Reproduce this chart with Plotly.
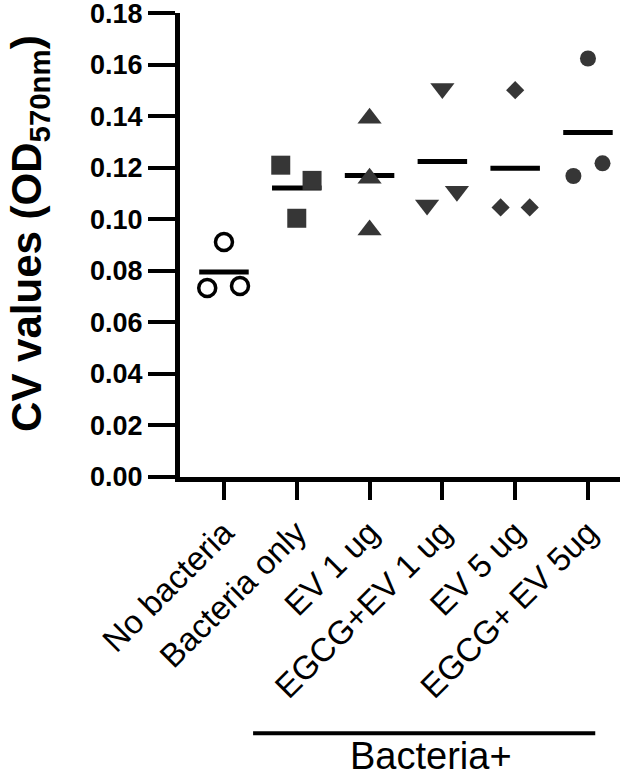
import numpy as np
import plotly.graph_objects as go

# ---- data ----
categories = ["No bacteria", "Bacteria only", "EV 1 ug", "EGCG+EV 1 ug", "EV 5 ug", "EGCG+ EV 5ug"]
no_bacteria = [0.0912, 0.0733, 0.0741]
bacteria_only = [0.1210, 0.1151, 0.1004]
ev_1ug = [0.1392, 0.1159, 0.0958]
egcg_ev_1ug = [0.1508, 0.1055, 0.1109]
ev_5ug = [0.1501, 0.1046, 0.1046]
egcg_ev_5ug = [0.1624, 0.1168, 0.1217]
y_ticks = [0.00, 0.02, 0.04, 0.06, 0.08, 0.10, 0.12, 0.14, 0.16, 0.18]
group_label = "Bacteria+"

series = [no_bacteria, bacteria_only, ev_1ug, egcg_ev_1ug, ev_5ug, egcg_ev_5ug]

# ---- styling (horizontal spread of replicate points, marker styles) ----
spread = [
    [0.0, -0.23, 0.22],
    [-0.22, 0.21, 0.0],
    [0.0, 0.0, 0.0],
    [0.0, -0.21, 0.2],
    [0.0, -0.2, 0.2],
    [0.0, -0.2, 0.2],
]
fill = "#363636"
styles = [
    dict(symbol="circle-open", size=17, color="black", line=dict(width=3.5, color="black")),
    dict(symbol="square", size=19, color=fill, line=dict(width=0)),
    dict(symbol="triangle-up", size=21, color=fill, line=dict(width=0)),
    dict(symbol="triangle-down", size=21, color=fill, line=dict(width=0)),
    dict(symbol="diamond", size=14, color=fill, line=dict(width=0)),
    dict(symbol="circle", size=16, color=fill, line=dict(width=0)),
]

fig = go.Figure()
half = 0.34
for i, (vals, off, st) in enumerate(zip(series, spread, styles)):
    m = float(np.mean(vals))
    fig.add_trace(go.Scatter(
        x=[i - half, i + half], y=[m, m], mode="lines",
        line=dict(color="black", width=5), showlegend=False, hoverinfo="skip"))
    fig.add_trace(go.Scatter(
        x=[i + o for o in off], y=vals, mode="markers",
        marker=st, showlegend=False, name=categories[i]))

font_family = "Liberation Sans, Arial, sans-serif"

fig.update_layout(
    width=644, height=779,
    margin=dict(l=180, r=24, t=13, b=302, autoexpand=False),
    plot_bgcolor="white", paper_bgcolor="white",
    font=dict(family=font_family, color="black"),
    xaxis=dict(
        range=[-0.604, 5.44], automargin=False,
        tickvals=list(range(len(categories))), ticktext=categories,
        tickangle=-45, ticks="outside", ticklen=18, tickwidth=4, tickcolor="black",
        showline=True, linewidth=5, linecolor="black",
        showgrid=False, zeroline=False,
        tickfont=dict(size=33, family=font_family, color="black"),
    ),
    yaxis=dict(
        range=[0, 0.18005], tickvals=y_ticks, tickformat=".2f", automargin=False,
        ticks="outside", ticklen=27, tickwidth=4, tickcolor="black",
        showline=True, linewidth=5, linecolor="black",
        showgrid=False, zeroline=False, ticklabeloverflow="allow",
        tickfont=dict(size=27, family=font_family, color="black", weight="bold"),
    ),
)

fig.add_annotation(
    text="<b>CV values (OD<sub>570nm</sub>)</b>", textangle=-90,
    xref="paper", yref="paper", x=-0.341, y=0.526,
    xanchor="center", yanchor="middle", showarrow=False,
    font=dict(size=42, family=font_family, color="black"),
)

fig.add_shape(type="line", xref="x", yref="paper", x0=0.40, x1=5.10, y0=-0.552, y1=-0.552,
              line=dict(color="black", width=4))
fig.add_annotation(
    text=group_label, xref="x", yref="paper", x=2.84, y=-0.650,
    xanchor="center", yanchor="bottom", showarrow=False,
    font=dict(size=38, family=font_family, color="black"),
)

fig.write_html("out.html")
